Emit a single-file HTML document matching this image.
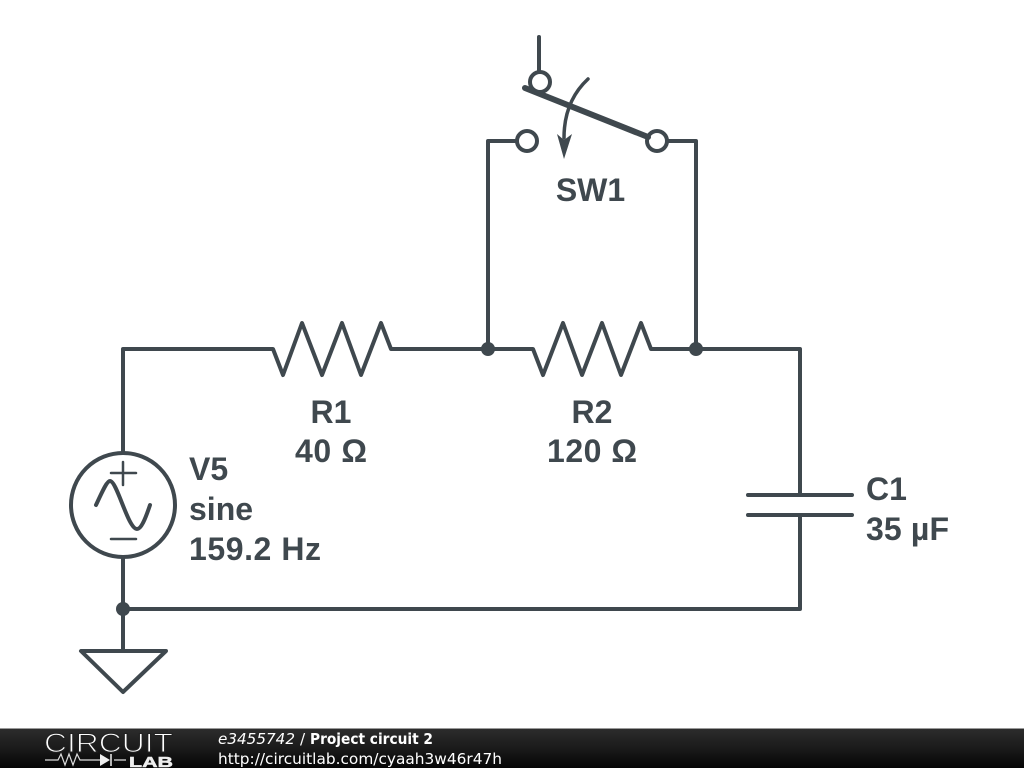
<!DOCTYPE html>
<html><head><meta charset="utf-8"><style>
html,body{margin:0;padding:0;background:#fff;width:1024px;height:768px;overflow:hidden}
svg{display:block}
.t{font-family:"Liberation Sans",sans-serif;font-weight:700;font-size:32px;fill:#3f484e}
.w{fill:none;stroke:#3f484e;stroke-width:4;stroke-linecap:round;stroke-linejoin:round}
.f{font-family:"DejaVu Sans",sans-serif;font-size:15.3px;fill:#fff}
</style></head><body>
<svg width="1024" height="768" viewBox="0 0 1024 768" xmlns="http://www.w3.org/2000/svg">
<defs><linearGradient id="g" x1="0" y1="0" x2="0" y2="1"><stop offset="0" stop-color="#2c2c2c"/><stop offset="0.5" stop-color="#1a1a1a"/><stop offset="1" stop-color="#050505"/></linearGradient></defs>
<rect width="1024" height="768" fill="#fff"/>
<g class="w">
<path d="M123 452V349H273L283 375L302 323L322 375L342 323L361 375L381 323L391 349H533L543 375L563 323L582 375L602 323L621 375L641 323L651 349H800V495"/>
<path d="M800 515V609H123"/>
<path d="M123 557V651"/>
<path d="M488 349V141H517"/>
<path d="M696 349V141H667"/>
<path d="M539 37V72"/>
<circle cx="540" cy="82" r="10"/>
<circle cx="527" cy="141" r="10"/>
<circle cx="657" cy="141" r="10"/>
<path d="M748 495H852M748 515H852"/>
<circle cx="123" cy="505" r="52"/>
<path d="M96 505C103 490 107 481 110 481C117 481 128 529 137 529C141 529 145 520 150 505"/>
<path d="M81 651H166L123 692Z"/>
<path d="M588 79C574 92 564 110 564 138" stroke-width="3.500"/>
</g>
<path d="M111 473H136M123 462V485M111 539H136" fill="none" stroke="#3f484e" stroke-width="2.500" stroke-linecap="round"/>
<path d="M525 88L648 137" fill="none" stroke="#3f484e" stroke-width="6" stroke-linecap="round"/>
<path d="M557 134L564 140L572 134L564 159Z" fill="#3f484e"/>
<circle cx="488" cy="349" r="7" fill="#3f484e"/>
<circle cx="696" cy="349" r="7" fill="#3f484e"/>
<circle cx="123" cy="609" r="7" fill="#3f484e"/>
<text class="t" x="590.500" y="201" text-anchor="middle">SW1</text>
<text class="t" x="331" y="423" text-anchor="middle">R1</text>
<text class="t" x="295" y="462" textLength="72">40 Ω</text>
<text class="t" x="592" y="423" text-anchor="middle">R2</text>
<text class="t" x="547" y="462" textLength="90">120 Ω</text>
<text class="t" x="189" y="480">V5</text>
<text class="t" x="189" y="520">sine</text>
<text class="t" x="189" y="560" textLength="132">159.2 Hz</text>
<text class="t" x="866" y="500">C1</text>
<text class="t" x="866" y="540" textLength="83">35 µF</text>
<rect x="0" y="729" width="1024" height="39" fill="url(#g)"/>
<rect x="0" y="728" width="1024" height="1" fill="#999"/>
<text x="44" y="752" font-family="Liberation Sans,sans-serif" font-size="27" fill="#fff" stroke="#222" stroke-width="1.100" textLength="129" lengthAdjust="spacingAndGlyphs">CIRCUIT</text>
<text x="129" y="767" font-family="Liberation Sans,sans-serif" font-weight="700" font-size="14.500" fill="#eee" stroke="#eee" stroke-width="0.500" textLength="44" lengthAdjust="spacingAndGlyphs">LAB</text>
<path d="M45 760H58L61 754L65 765L69 754L73 765L77 754L80 760H100M114 760H126" fill="none" stroke="#ddd" stroke-width="1.200"/>
<path d="M100 754L110 760L100 766Z" fill="#eee"/>
<path d="M111 754V766" stroke="#eee" stroke-width="1.500"/>
<text class="f" x="218" y="744" font-style="italic" textLength="77" lengthAdjust="spacingAndGlyphs">e3455742</text>
<text class="f" x="300" y="744">/</text>
<text class="f" x="310" y="744" font-weight="700" textLength="123" lengthAdjust="spacingAndGlyphs">Project circuit 2</text>
<text class="f" x="218" y="764" textLength="284" lengthAdjust="spacingAndGlyphs">http://circuitlab.com/cyaah3w46r47h</text>
</svg>
</body></html>
